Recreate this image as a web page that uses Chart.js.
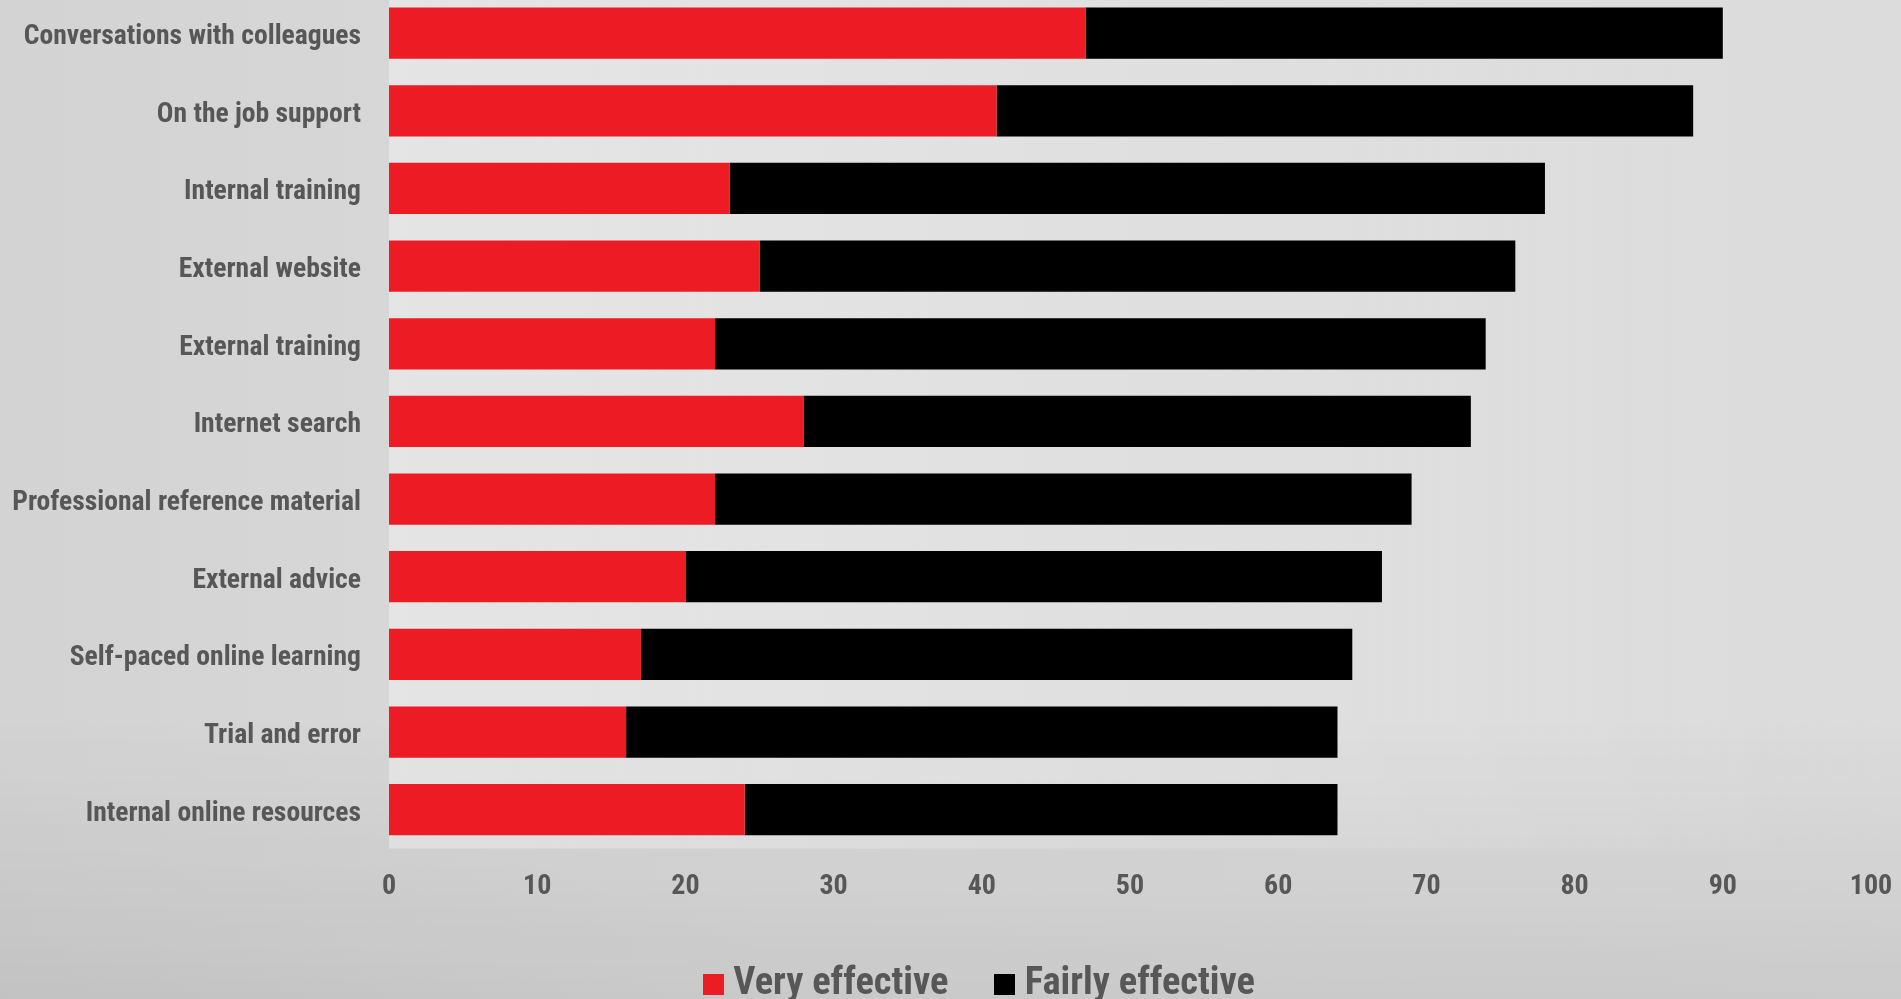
<!DOCTYPE html>
<html>
<head>
<meta charset="utf-8">
<title>Effectiveness of learning sources</title>
<script src="https://cdn.jsdelivr.net/npm/chart.js@4.4.1/dist/chart.umd.min.js"></script>
<style>
  html, body { margin: 0; padding: 0; overflow: hidden; }
  body {
    width: 1901px; height: 999px;
    background:
      linear-gradient(to bottom, rgba(0,0,0,0) 72%, rgba(0,0,0,0.08) 100%),
      linear-gradient(to right, #d3d3d3 0%, #dadada 40%, #dcdcdc 100%);
  }
  #wrap { position: absolute; left: 0; top: -7px; width: 1901px; height: 1030px; }
</style>
</head>
<body>
<div id="wrap"><canvas id="chart"></canvas></div>
<script>
// data (percent)
const categories = [
  'Conversations with colleagues',
  'On the job support',
  'Internal training',
  'External website',
  'External training',
  'Internet search',
  'Professional reference material',
  'External advice',
  'Self-paced online learning',
  'Trial and error',
  'Internal online resources'
];
const veryEffective   = [47, 41, 23, 25, 22, 28, 22, 20, 17, 16, 24];
const fairlyEffective = [43, 47, 55, 51, 52, 45, 47, 47, 48, 48, 40];
const xMin = 0, xMax = 100, xStep = 10;

const RED = '#ed1c24';
const BLACK = '#000000';
const TEXT = '#575757';
const FONT = "'Roboto Condensed', 'Open Sans Condensed', sans-serif";

// small square used as the legend marker
function swatch(color) {
  const c = document.createElement('canvas');
  c.width = 21; c.height = 21;
  const g = c.getContext('2d');
  g.fillStyle = color;
  g.fillRect(0, 0, 21, 21);
  return c;
}

// lighter wash behind the bars
const plotWash = {
  id: 'plotWash',
  beforeDraw(chart) {
    const a = chart.chartArea;
    const g = chart.ctx.createLinearGradient(a.left, 0, a.right, 0);
    g.addColorStop(0, 'rgba(255,255,255,0.35)');
    g.addColorStop(0.6, 'rgba(255,255,255,0.12)');
    g.addColorStop(1, 'rgba(255,255,255,0)');
    chart.ctx.save();
    chart.ctx.fillStyle = g;
    chart.ctx.fillRect(a.left, a.top, a.right - a.left, a.bottom - a.top);
    chart.ctx.restore();
  }
};

// the legend in the original sits a little right of the page centre
const legendStartX = 713;
const legendShift = {
  id: 'legendShift',
  afterLayout(chart) {
    const lg = chart.legend;
    if (!lg || !lg.lineWidths) return;
    const p = lg.options.labels.padding;
    const x0 = (lg.left + p + lg.right - lg.lineWidths[0]) / 2;
    const dx = legendStartX - x0;
    lg.left += dx;
    lg.right += dx;
  }
};

const ctx = document.getElementById('chart').getContext('2d');
new Chart(ctx, {
  type: 'bar',
  data: {
    labels: categories,
    datasets: [
      { label: 'Very effective', data: veryEffective, backgroundColor: RED },
      { label: 'Fairly effective', data: fairlyEffective, backgroundColor: BLACK }
    ]
  },
  options: {
    indexAxis: 'y',
    animation: false,
    responsive: true,
    maintainAspectRatio: false,
    layout: { padding: { left: 0, right: 30, top: 0, bottom: 9 } },
    datasets: { bar: { categoryPercentage: 1, barPercentage: 0.66, borderWidth: 0 } },
    scales: {
      x: {
        stacked: true,
        min: xMin,
        max: xMax,
        grid: { display: false, drawTicks: true, tickLength: 15 },
        border: { display: false },
        ticks: {
          stepSize: xStep,
          padding: 0,
          color: TEXT,
          font: { family: FONT, size: 28, weight: 'bold', lineHeight: '46px' }
        }
      },
      y: {
        stacked: true,
        grid: { display: false, drawTicks: true, tickLength: 28 },
        border: { display: false },
        afterFit(scale) { scale.width = 389; },
        ticks: {
          padding: 0,
          labelOffset: 4,
          autoSkip: false,
          color: TEXT,
          font: { family: FONT, size: 27.6, weight: 'bold', lineHeight: 0.1 }
        }
      }
    },
    plugins: {
      tooltip: { enabled: false },
      legend: {
        position: 'bottom',
        labels: {
          color: TEXT,
          padding: 56,
          usePointStyle: true,
          pointStyleWidth: 1,
          font: { family: FONT, size: 38.5, weight: 'bold' },
          generateLabels(chart) {
            const items = Chart.defaults.plugins.legend.labels.generateLabels(chart);
            items.forEach((it, i) => { it.pointStyle = swatch(chart.data.datasets[i].backgroundColor); });
            return items;
          }
        }
      }
    }
  },
  plugins: [plotWash, legendShift]
});
</script>
</body>
</html>
